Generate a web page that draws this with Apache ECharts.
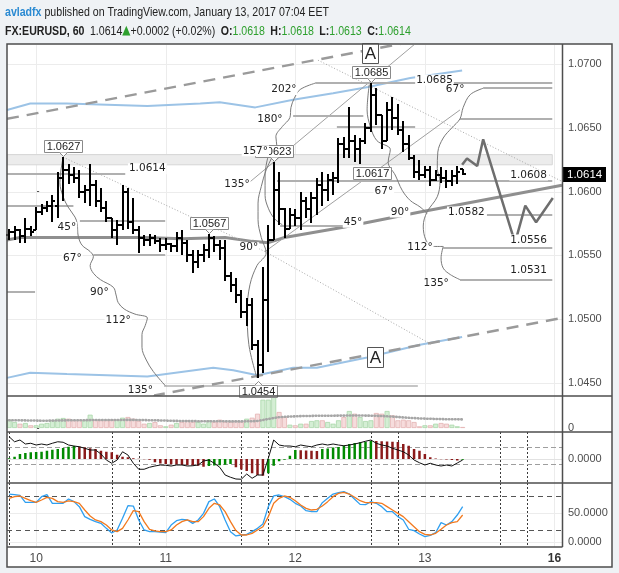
<!DOCTYPE html>
<html><head><meta charset="utf-8">
<script src="https://cdn.jsdelivr.net/npm/echarts@6/dist/echarts.min.js"></script>
<style>html,body{margin:0;padding:0;background:#eff2f5;}#c{width:619px;height:573px;}</style>
</head><body><div id="c"></div>
<script>
// ---------------- DATA ----------------
const dayTicks = [0, 24, 48, 72, 96];
const dayLabels = ['10', '11', '12', '13', '16'];
const sessionLines = [-5, 14, 19, 38, 43, 62, 67, 86, 91];
const priceTicks = [1.0450, 1.0500, 1.0550, 1.0600, 1.0650, 1.0700];
const firstBar = -5;
const opens = [1.0566,1.0568,1.0570,1.0565,1.0571,
 1.0570,1.0584,1.0587,1.0589,1.0589,1.0611,1.0617,1.0613,1.0611,1.0600,
 1.0601,1.0605,1.0593,1.0587,1.0579,1.0570,1.0574,1.0600,1.0576,1.0570,
 1.0564,1.0562,1.0564,1.0561,1.0558,1.0559,1.0557,1.0564,1.0560,1.0550,
 1.0545,1.0550,1.0554,1.0564,1.0558,1.0556,1.0534,1.0527,1.0519,1.0506,
 1.0511,1.0480,1.0464,1.0515,1.0562,1.0601,1.0586,1.0571,1.0582,1.0579,
 1.0593,1.0586,1.0595,1.0605,1.0601,1.0609,1.0611,1.0637,1.0633,1.0640,
 1.0633,1.0640,1.0650,1.0676,1.0660,1.0640,1.0664,1.0658,1.0648,1.0637,
 1.0626,1.0615,1.0613,1.0617,1.0609,1.0613,1.0611,1.0608,1.0612,1.0618];
const highs = [1.0571,1.0573,1.0571,1.0579,1.0573,
 1.0588,1.0590,1.0593,1.0597,1.0615,1.0627,1.0622,1.0619,1.0617,1.0605,
 1.0622,1.0609,1.0603,1.0593,1.0579,1.0578,1.0605,1.0603,1.0595,1.0573,
 1.0566,1.0567,1.0566,1.0564,1.0564,1.0560,1.0568,1.0570,1.0562,1.0554,
 1.0554,1.0559,1.0567,1.0565,1.0562,1.0562,1.0537,1.0532,1.0523,1.0517,
 1.0517,1.0484,1.0541,1.0574,1.0623,1.0615,1.0587,1.0587,1.0586,1.0600,
 1.0596,1.0600,1.0611,1.0615,1.0614,1.0615,1.0642,1.0643,1.0666,1.0644,
 1.0642,1.0654,1.0685,1.0681,1.0660,1.0670,1.0674,1.0669,1.0655,1.0644,
 1.0629,1.0625,1.0620,1.0620,1.0617,1.0619,1.0617,1.0617,1.0620,1.0618];
const lows = [1.0562,1.0562,1.0560,1.0560,1.0565,
 1.0570,1.0582,1.0584,1.0576,1.0579,1.0593,1.0606,1.0607,1.0595,1.0591,
 1.0589,1.0588,1.0584,1.0576,1.0564,1.0558,1.0570,1.0571,1.0567,1.0552,
 1.0557,1.0557,1.0559,1.0553,1.0554,1.0553,1.0553,1.0550,1.0545,1.0536,
 1.0540,1.0545,1.0548,1.0553,1.0546,1.0530,1.0521,1.0513,1.0501,1.0495,
 1.0476,1.0454,1.0458,1.0474,1.0562,1.0574,1.0564,1.0571,1.0573,1.0570,
 1.0579,1.0575,1.0582,1.0589,1.0593,1.0597,1.0607,1.0626,1.0626,1.0623,
 1.0622,1.0637,1.0647,1.0652,1.0633,1.0640,1.0648,1.0644,1.0631,1.0625,
 1.0611,1.0609,1.0611,1.0604,1.0608,1.0607,1.0603,1.0604,1.0606,1.0613];
const closes = [1.0568,1.0570,1.0565,1.0571,1.0568,
 1.0584,1.0587,1.0589,1.0593,1.0611,1.0617,1.0613,1.0611,1.0600,1.0601,
 1.0605,1.0593,1.0587,1.0579,1.0570,1.0574,1.0600,1.0576,1.0570,1.0564,
 1.0562,1.0564,1.0561,1.0558,1.0559,1.0557,1.0564,1.0560,1.0550,1.0545,
 1.0550,1.0554,1.0564,1.0558,1.0556,1.0534,1.0527,1.0519,1.0506,1.0511,
 1.0480,1.0464,1.0515,1.0562,1.0601,1.0586,1.0571,1.0582,1.0579,1.0593,
 1.0586,1.0595,1.0605,1.0601,1.0609,1.0611,1.0637,1.0633,1.0640,1.0633,
 1.0640,1.0650,1.0676,1.0660,1.0640,1.0664,1.0658,1.0648,1.0637,1.0626,
 1.0615,1.0613,1.0617,1.0609,1.0613,1.0611,1.0608,1.0612,1.0615,1.0614];
const volumes = [830,600,430,500,270,270,430,500,770,930,
 1000,930,770,830,770,1330,830,770,770,830,
 830,1030,1100,930,700,430,500,600,270,170,
 330,500,600,770,600,600,430,770,600,830,
 600,600,700,600,930,1030,1430,2830,2830,3100,
 1600,1100,330,270,430,430,700,770,770,600,
 430,770,1100,1700,1430,1100,700,770,1500,1430,
 1700,1270,770,830,770,600,170,270,270,430,
 500,430,330,170,100];
const volumeMA = [770,770,770,760,750,740,730,730,740,750,
 760,770,780,780,780,790,800,800,800,800,
 800,800,810,810,800,790,780,770,760,740,
 720,710,700,690,690,680,680,680,670,670,
 670,660,660,660,670,680,700,800,900,1000,
 1080,1120,1150,1170,1190,1200,1210,1220,1230,1230,
 1230,1240,1240,1250,1250,1250,1240,1230,1220,1200,
 1170,1140,1100,1060,1020,990,960,940,920,900,
 890,880,870,870,860];
const macdHist = [0.00003,0.00009,0.00020,0.00024,0.00027,0.00028,0.00029,0.00033,0.00037,0.00040,
 0.00044,0.00049,0.00052,0.00050,0.00047,0.00043,0.00040,0.00033,0.00029,0.00027,
 0.00017,0.00009,0.00007,0.00003,0.00001,-0.00001,-0.00003,-0.00013,-0.00018,-0.00020,
 -0.00021,-0.00022,-0.00024,-0.00025,-0.00026,-0.00027,-0.00031,-0.00028,-0.00026,-0.00025,
 -0.00023,-0.00020,-0.00033,-0.00042,-0.00048,-0.00057,-0.00064,-0.00067,-0.00057,-0.00027,
 -0.00009,-0.00003,0.00013,0.00036,0.00035,0.00034,0.00033,0.00032,0.00040,0.00042,
 0.00046,0.00048,0.00053,0.00060,0.00064,0.00067,0.00069,0.00073,0.00072,0.00071,
 0.00070,0.00069,0.00068,0.00060,0.00053,0.00040,0.00033,0.00020,0.00007,0.00002,
 -0.00001,-0.00002,-0.00004,-0.00006,-0.00003];
const macdLine = [0.00089,0.00069,0.00076,0.00060,0.00063,0.00056,0.00060,0.00056,0.00063,0.00069,
 0.00067,0.00056,0.00052,0.00049,0.00043,0.00036,0.00036,0.00020,-0.00004,-0.00017,
 -0.00004,0.00029,0.00016,-0.00017,-0.00041,-0.00041,-0.00033,-0.00028,-0.00024,-0.00025,
 -0.00028,-0.00024,-0.00024,-0.00028,-0.00027,-0.00024,-0.00008,-0.00004,-0.00017,-0.00033,
 -0.00064,-0.00073,-0.00080,-0.00081,-0.00060,-0.00077,-0.00064,-0.00064,0.00003,0.00076,
 0.00056,0.00052,0.00052,0.00049,0.00056,0.00052,0.00049,0.00056,0.00060,0.00056,
 0.00060,0.00056,0.00053,0.00056,0.00060,0.00065,0.00071,0.00076,0.00063,0.00056,
 0.00052,0.00043,0.00036,0.00029,0.00016,-0.00004,-0.00015,-0.00024,-0.00017,-0.00024,
 -0.00028,-0.00024,-0.00028,-0.00016,-0.00004];
const macdLevels = [0.0005, -0.0002];
const stochK = [82.8,81.7,80.5,68.4,68.4,68.4,78.2,81.7,66.7,66.7,
 66.7,74.2,69.6,60.9,43.6,38.9,34.9,32.0,23.3,15.2,
 20.5,40.7,62.6,62.0,37.8,20.5,17.6,17.6,17.0,15.8,
 29.1,36.6,38.9,37.8,32.0,37.8,49.3,69.6,74.2,60.9,
 37.8,17.6,10.1,11.8,12.9,17.6,23.3,30.8,60.9,79.4,
 81.1,78.2,73.6,66.7,62.0,54.0,52.2,52.2,67.8,75.3,
 82.8,85.2,86.9,82.8,73.6,64.9,64.3,69.6,66.7,60.9,
 52.2,52.2,43.6,37.8,21.7,19.4,13.5,8.9,11.2,15.8,
 33.2,29.1,34.9,46.4,60.9];
const stochD = [75.3,78.2,79.4,75.3,71.2,68.4,72.4,77.1,75.3,69.6,
 68.4,70.8,69.6,66.7,55.1,44.7,37.8,34.9,29.1,20.5,
 17.6,23.3,37.8,54.0,52.2,34.9,21.7,18.8,17.6,17.6,
 20.5,29.1,34.9,37.8,34.9,34.9,43.6,58.0,66.7,63.8,
 52.2,34.9,19.4,11.8,11.8,14.7,20.5,26.2,43.6,66.7,
 75.3,79.4,77.1,71.2,63.8,58.0,55.1,56.3,62.0,69.6,
 78.2,84.0,85.7,82.8,77.1,71.2,67.8,67.8,67.8,66.7,
 60.9,55.1,49.3,43.6,34.9,26.2,17.6,12.9,11.8,14.7,
 21.7,29.1,33.2,34.9,46.4];
const stochLevels = [80, 20];
const lastPrice = 1.0614;

// envelope (blue bands) and gray middle line: [barIndex, price]
const envUpper = [[-5.4,1.0664],[-1.1,1.0669],[5.7,1.0669],[20.6,1.0667],[30.4,1.0669],[34,1.0670],[40.6,1.0666],[47.6,1.0672],[55,1.0677],[61.5,1.0682],[69.3,1.0689],[78.9,1.0695]];
const envLower = [[-5.4,1.0454],[-1.1,1.0458],[5.7,1.0457],[20.6,1.0455],[32.8,1.0462],[36.5,1.0460],[41,1.0456],[47.6,1.0462],[52,1.0462],[61.3,1.0470],[71.1,1.0480],[78.9,1.0486]];
const envMid = [[-5.4,1.0562],[-3,1.0564],[10,1.0564],[20,1.0564],[27,1.0563],[35,1.0564],[40,1.0561],[43,1.0560],[46,1.0564],[56.9,1.0572],[71.1,1.0584],[97.4,1.0605]];
// drawings: straight segments [x1, p1, x2, p2]
const channelLines = [[-5.4,1.0657,97.4,1.0740],[18,1.0437,97.4,1.0501]];
const fanLines = [[38.3,1.0603,71.1,1.0719],[42.4,1.0553,78.5,1.0664]];
const dottedLines = [[5.0,1.0627,42.4,1.0553],[42.4,1.0553,73.3,1.0480],[52.2,1.0703,97.4,1.0608]];
// horizontal levels [x1, x2, price]
const levels = [[-5.4,16.5,1.0614],[-5.4,6.9,1.0589],[8.1,23.9,1.0577],[10.6,23.9,1.0550],[-5.4,-0.2,1.0521],
 [51.7,95.6,1.0685],[82.8,95.6,1.0681],[47.6,60.6,1.0659],[55.7,70.2,1.0651],[78.5,95.6,1.0657],
 [44.6,95.6,1.0608],[45.2,56.9,1.0573],[83.5,95.6,1.0582],[75.4,95.6,1.0556],[78.5,95.6,1.0531]];
const lowLevel = [[23.7,70.7,1.0448]];
const band = [[-5.4,95.6,1.0621,1.0629]];
// curved arcs [barIndex, price]
const arcA = [[5.0,1.0627],[4.6,1.0617],[4.4,1.0607],[5.0,1.0596],[5.9,1.0588],[7.2,1.0580],[7.6,1.0575],[7.8,1.0565],[8.5,1.0558],[10.0,1.0553],[10.6,1.0549],[10.0,1.0542],[10.6,1.0536],[11.9,1.0531],[14.3,1.0525],[14.8,1.0519],[15.2,1.0513],[16.3,1.0508],[18.3,1.0504],[20.6,1.0501],[20.2,1.0495],[19.6,1.0488],[19.6,1.0478],[20.4,1.0468],[21.7,1.0459],[23.9,1.0448]];
const arcB = [[40.9,1.0454],[39.4,1.0480],[39.1,1.0507],[39.6,1.0527],[40.9,1.0542],[42.6,1.0552],[41.7,1.0564],[41.1,1.0578],[41.1,1.0591],[41.7,1.0604],[42.6,1.0617],[43.7,1.0627],[44.6,1.0635],[44.4,1.0643],[45.6,1.0651],[47.0,1.0658],[47.2,1.0666],[47.8,1.0673],[48.9,1.0680],[51.7,1.0685]];
const arcB2 = [[43.3,1.0633],[42.4,1.0613],[42.4,1.0597],[43.0,1.0587],[44.1,1.0579],[45.6,1.0574]];
const arcC = [[61.7,1.0684],[61.3,1.0664],[61.9,1.0651],[63.1,1.0640],[65.6,1.0633],[65.2,1.0623],[66.5,1.0613],[67.8,1.0601],[69.3,1.0593],[71.1,1.0588],[72.4,1.0583]];
const arcD = [[82.8,1.0681],[80.4,1.0676],[79.1,1.0666],[78.5,1.0657],[77.0,1.0650],[75.4,1.0642],[74.4,1.0631],[74.3,1.0618],[74.8,1.0608],[74.3,1.0596],[72.4,1.0584],[71.7,1.0573],[72.2,1.0562],[73.5,1.0557],[75.4,1.0557]];
const arcE = [[75.4,1.0557],[75.0,1.0548],[75.4,1.0540],[76.7,1.0535],[78.5,1.0531]];
const forecast = [[78.9,1.0621],[79.8,1.0626],[81.7,1.0620],[82.8,1.0641],[88.7,1.0560],[90.6,1.0589],[92.6,1.0576],[95.7,1.0595]];
// text annotations
const degLabels = [[5.7,1.0572,'45°'],[6.7,1.0548,'67°'],[11.7,1.0521,'90°'],[15.2,1.0499,'112°'],[19.3,1.04445,'135°'],
 [39.4,1.0556,'90°'],[37.2,1.0606,'135°'],[40.6,1.0632,'157°'],[43.3,1.0657,'180°'],[45.9,1.0680,'202°'],
 [58.7,1.0576,'45°'],[64.4,1.0600,'67°'],[67.4,1.0584,'90°'],[71.1,1.0556,'112°'],[74.1,1.0528,'135°'],[77.6,1.0680,'67°']];
const levelLabels = [[17.0,1.0618,'1.0614','left'],[70.2,1.06875,'1.0685','left'],[94.8,1.0613,'1.0608','right'],
 [76.1,1.0584,'1.0582','left'],[94.8,1.0562,'1.0556','right'],[94.8,1.0538,'1.0531','right']];
const priceBoxes = [[5,1.0627,'1.0627','up'],[32,1.0567,'1.0567','up'],[44,1.0623,'1.0623','up'],
 [41,1.0454,'1.0454','down'],[62,1.0685,'1.0685','up'],[62.2,1.06146,'1.0617','none']];
const waveLabels = [[61.9,1.07086,'A'],[62.8,1.04704,'A']];

// ---------------- CHART ----------------
const FONT_AX = '"Liberation Sans", Arial, sans-serif';
const FONT_DR = '"DejaVu Sans", Verdana, sans-serif';
const idx = opens.map((_, k) => firstBar + k);
const ohlc = opens.map((o, k) => [idx[k], o, highs[k], lows[k], closes[k]]);

function vLine(color, dash) {
  return (params, api) => {
    const cs = params.coordSys;
    const x = Math.round(api.coord([api.value(0), 0])[0]) + 0.5;
    return {type: 'line', shape: {x1: x, y1: cs.y, x2: x, y2: cs.y + cs.height}, style: {stroke: color, lineWidth: 1, lineDash: dash || null}};
  };
}
function hLine(color, dash, w) {
  return (params, api) => {
    const cs = params.coordSys;
    const y = Math.round(api.coord([0, api.value(0)])[1]) + 0.5;
    return {type: 'line', shape: {x1: cs.x, y1: y, x2: cs.x + cs.width, y2: y}, style: {stroke: color, lineWidth: w || 1, lineDash: dash || null}};
  };
}
function seg(style) {
  return (params, api) => {
    const a = api.coord([api.value(0), api.value(1)]), b = api.coord([api.value(2), api.value(3)]);
    return {type: 'line', shape: {x1: a[0], y1: a[1], x2: b[0], y2: b[1]}, style: Object.assign({}, style)};
  };
}
function hSeg(style) {
  return (params, api) => {
    const a = api.coord([api.value(0), api.value(2)]), b = api.coord([api.value(1), api.value(2)]);
    const y = Math.round(a[1]);
    return {type: 'line', shape: {x1: a[0], y1: y, x2: b[0], y2: y}, style: Object.assign({}, style)};
  };
}
function customSeries(name, g, data, render, encode, z, clip) {
  return {type: 'custom', name, xAxisIndex: g, yAxisIndex: g, data, renderItem: render, encode, z: z || 2, silent: true, clip: !!clip};
}
function lineSeries(data, color, width, z, extra) {
  return Object.assign({type: 'line', xAxisIndex: 0, yAxisIndex: 0, data, showSymbol: false, symbol: 'none', silent: true, z: z || 3,
    lineStyle: {color, width}, clip: true}, extra || {});
}

const grids = [
  {left: 7, right: 57, top: 45, height: 351},
  {left: 7, right: 57, top: 396, height: 36},
  {left: 7, right: 57, top: 432, height: 51},
  {left: 7, right: 57, top: 483, height: 64}
];
const xBase = {type: 'value', min: -5.4, max: 97.4, axisLine: {show: false}, axisTick: {show: false}, splitLine: {show: false}, axisLabel: {show: false}};
const xAxes = [0, 1, 2, 3].map(g => Object.assign({}, xBase, {gridIndex: g}));
xAxes[3].axisLabel = {show: true, customValues: dayTicks, margin: 6, color: '#4a4a4a', fontSize: 12, fontFamily: FONT_AX,
  formatter: v => { const i = dayTicks.indexOf(v); return i === dayTicks.length - 1 ? '{b|' + dayLabels[i] + '}' : dayLabels[i]; },
  rich: {b: {fontWeight: 'bold', fontSize: 12, color: '#333', fontFamily: FONT_AX}}};
function yAx(g, min, max, ticks) {
  return {gridIndex: g, type: 'value', position: 'right', min, max, axisLine: {show: false}, splitLine: {show: false},
    axisTick: {show: true, customValues: ticks, length: 3, lineStyle: {color: '#555'}},
    axisLabel: {customValues: ticks, formatter: v => g === 1 ? String(v) : v.toFixed(4), color: '#4d4d4d', fontSize: 11, fontFamily: FONT_AX, margin: 6}};
}
const yAxes = [yAx(0, 1.04398, 1.07149, priceTicks), yAx(1, -400, 3200, [0]), yAx(2, -0.00096, 0.00108, [0]), yAx(3, -9, 101.9, [0, 50])];

const series = [];
[0, 1, 2, 3].forEach(g => series.push(customSeries('day' + g, g, dayTicks.map(v => [v]), vLine('#ececec'), {x: 0}, 1)));
series.push(customSeries('pgrid', 0, priceTicks.map(v => [v]), hLine('#ececec'), {y: 0}, 1));
series.push(customSeries('sgrid', 3, [[0], [50]], hLine('#ececec'), {y: 0}, 1));
series.push(customSeries('mzero', 2, [[0]], hLine('#e2e2e2'), {y: 0}, 1));
[2, 3].forEach(g => series.push(customSeries('sess' + g, g, sessionLines.map(v => [v]), vLine('#3a3a3a', [2, 2]), {x: 0}, 2)));
series.push(customSeries('mlev', 2, macdLevels.map(v => [v]), hLine('#9e9e9e', [5, 3]), {y: 0}, 2));
series.push(customSeries('slev', 3, stochLevels.map(v => [v]), hLine('#555', [5, 4]), {y: 0}, 2));
// band
series.push(customSeries('band', 0, band, (params, api) => {
  const a = api.coord([api.value(0), api.value(3)]), b = api.coord([api.value(1), api.value(2)]);
  return {type: 'rect', shape: {x: a[0], y: a[1], width: b[0] - a[0], height: b[1] - a[1]}, style: {fill: '#ececec', stroke: '#d6d6d6', lineWidth: 1}};
}, {x: [0, 1], y: [2, 3]}, 1.5, true));
// envelope
series.push(lineSeries(envUpper, '#9cc3e6', 2, 2.5));
series.push(lineSeries(envLower, '#9cc3e6', 2, 2.5));
series.push(lineSeries(envMid, '#8f8f8f', 3, 2.5));
// drawings
series.push(customSeries('chan', 0, channelLines, seg({stroke: '#9a9a9a', lineWidth: 2.5, lineDash: [12, 8]}), {x: [0, 2], y: [1, 3]}, 3, true));
series.push(customSeries('fan', 0, fanLines, seg({stroke: '#a0a0a0', lineWidth: 1}), {x: [0, 2], y: [1, 3]}, 3, true));
series.push(customSeries('dots', 0, dottedLines, seg({stroke: '#a8a8a8', lineWidth: 1, lineDash: [1, 2]}), {x: [0, 2], y: [1, 3]}, 3, true));
series.push(customSeries('lev', 0, levels, hSeg({stroke: '#b0b0b0', lineWidth: 2}), {x: [0, 1], y: 2}, 3, true));
series.push(customSeries('lowlev', 0, lowLevel, hSeg({stroke: '#8a8a8a', lineWidth: 1}), {x: [0, 1], y: 2}, 3, true));
[arcA, arcB, arcB2, arcC, arcD, arcE].forEach(a => series.push(lineSeries(a, '#7a7a7a', 1, 3, {smooth: 0.35})));
series.push(lineSeries(forecast, '#6e6e6e', 2.5, 3));
// OHLC bars
series.push(customSeries('ohlc', 0, ohlc, (params, api) => {
  const x = api.value(0);
  const pO = api.coord([x, api.value(1)]), pH = api.coord([x, api.value(2)]), pL = api.coord([x, api.value(3)]), pC = api.coord([x, api.value(4)]);
  const cx = Math.round(pO[0]);
  const st = {stroke: '#000', lineWidth: 2};
  const yo = Math.round(pO[1]), yc = Math.round(pC[1]);
  return {type: 'group', children: [
    {type: 'line', shape: {x1: cx, y1: Math.round(pH[1]), x2: cx, y2: Math.round(pL[1])}, style: st},
    {type: 'line', shape: {x1: cx - 3, y1: yo, x2: cx, y2: yo}, style: st},
    {type: 'line', shape: {x1: cx, y1: yc, x2: cx + 3, y2: yc}, style: st}
  ]};
}, {x: 0, y: [1, 2, 3, 4]}, 4));
// labels
series.push(customSeries('boxes', 0, priceBoxes.map(d => [d[0], d[1]]), (params, api) => {
  const d = priceBoxes[params.dataIndex];
  const p = api.coord([d[0], d[1]]);
  const w = 38, h = 12, cx = Math.round(p[0]) + 0.5;
  let by;
  if (d[3] === 'up') by = Math.round(p[1]) - 5 - h; else if (d[3] === 'down') by = Math.round(p[1]) + 7; else by = Math.round(p[1] - h / 2);
  by += 0.5;
  const ch = [
    {type: 'rect', shape: {x: cx - w / 2, y: by, width: w, height: h}, style: {fill: '#fff', stroke: '#8a8a8a', lineWidth: 1}},
    {type: 'text', x: cx, y: by + h / 2 + 0.5, style: {text: d[2], fill: '#222', fontSize: 11, fontFamily: FONT_AX, align: 'center', verticalAlign: 'middle'}}
  ];
  if (d[3] === 'up') ch.push({type: 'polyline', shape: {points: [[cx - 4, by + h], [cx, by + h + 4], [cx + 4, by + h]]}, style: {stroke: '#8a8a8a', fill: '#fff', lineWidth: 1}});
  if (d[3] === 'down') ch.push({type: 'polyline', shape: {points: [[cx - 4, by], [cx, by - 4], [cx + 4, by]]}, style: {stroke: '#8a8a8a', fill: '#fff', lineWidth: 1}});
  return {type: 'group', children: ch};
}, {x: 0, y: 1}, 6));
series.push(customSeries('deg', 0, degLabels.map(d => [d[0], d[1]]), (params, api) => {
  const d = degLabels[params.dataIndex];
  const p = api.coord([d[0], d[1]]);
  return {type: 'text', x: p[0], y: p[1], style: {text: d[2], fill: '#222', fontSize: 10.5, fontFamily: FONT_DR, align: 'center', verticalAlign: 'middle', backgroundColor: '#fff', padding: [0, 1]}};
}, {x: 0, y: 1}, 7));
series.push(customSeries('lvlab', 0, levelLabels.map(d => [d[0], d[1]]), (params, api) => {
  const d = levelLabels[params.dataIndex];
  const p = api.coord([d[0], d[1]]);
  return {type: 'text', x: p[0], y: p[1], style: {text: d[2], fill: '#222', fontSize: 10.5, fontFamily: FONT_DR, align: d[3], verticalAlign: 'middle', backgroundColor: '#fff', padding: [0, 1]}};
}, {x: 0, y: 1}, 5));
series.push(customSeries('wave', 0, waveLabels.map(d => [d[0], d[1]]), (params, api) => {
  const d = waveLabels[params.dataIndex];
  const p = api.coord([d[0], d[1]]);
  const cx = Math.round(p[0]) + 0.5, cy = Math.round(p[1]) + 0.5;
  return {type: 'group', children: [
    {type: 'rect', shape: {x: cx - 8, y: cy - 10, width: 16, height: 20}, style: {fill: '#fff', stroke: '#555', lineWidth: 1}},
    {type: 'text', x: cx, y: cy + 1, style: {text: d[2], fill: '#222', fontSize: 17, fontFamily: FONT_AX, align: 'center', verticalAlign: 'middle'}}
  ]};
}, {x: 0, y: 1}, 6));
series.push(customSeries('tag', 0, [[97.4, lastPrice]], (params, api) => {
  const cs = params.coordSys;
  const p = api.coord([api.value(0), api.value(1)]);
  const y = Math.round(p[1]);
  return {type: 'group', children: [
    {type: 'rect', shape: {x: cs.x + cs.width + 1, y: y - 7, width: 43, height: 15}, style: {fill: '#000'}},
    {type: 'text', x: cs.x + cs.width + 5, y: y + 0.5, style: {text: lastPrice.toFixed(4), fill: '#fff', fontSize: 11.5, fontFamily: FONT_AX, align: 'left', verticalAlign: 'middle'}}
  ]};
}, {x: 0, y: 1}, 8));
// volume
series.push({type: 'bar', xAxisIndex: 1, yAxisIndex: 1, barWidth: 5, silent: true, z: 3,
  data: volumes.map((v, k) => ({value: [idx[k], v], itemStyle: closes[k] >= opens[k] ? {color: '#d4eed4', borderColor: '#a9d7a9', borderWidth: 0.8} : {color: '#f6dcdc', borderColor: '#e3b3b3', borderWidth: 0.8}}))});
series.push({type: 'line', xAxisIndex: 1, yAxisIndex: 1, data: volumeMA.map((v, k) => [idx[k], v]), showSymbol: false, silent: true, z: 4,
  lineStyle: {color: '#a6a6a6', width: 2.6, type: [0.5, 2.6], cap: 'round'}});
// MACD
series.push({type: 'bar', xAxisIndex: 2, yAxisIndex: 2, barWidth: 2.5, silent: true, z: 3,
  data: macdHist.map((v, k) => ({value: [idx[k], v], itemStyle: {color: (k === 0 || v > macdHist[k - 1]) ? '#008a00' : '#8b1a1a'}}))});
series.push({type: 'line', xAxisIndex: 2, yAxisIndex: 2, data: macdLine.map((v, k) => [idx[k], v]), showSymbol: false, silent: true, z: 4,
  lineStyle: {color: '#111', width: 1}});
// Stochastic
series.push({type: 'line', xAxisIndex: 3, yAxisIndex: 3, data: stochK.map((v, k) => [idx[k], v]), showSymbol: false, silent: true, z: 4,
  lineStyle: {color: '#2f9ff0', width: 1.3}});
series.push({type: 'line', xAxisIndex: 3, yAxisIndex: 3, data: stochD.map((v, k) => [idx[k], v]), showSymbol: false, silent: true, z: 4,
  lineStyle: {color: '#f2791e', width: 1.3}});

const frame = '#4e4e4e';
const HF = '"Liberation Sans", Arial, sans-serif';
const graphic = {elements: [
  {type: 'rect', z: -10, silent: true, shape: {x: 7, y: 44, width: 605, height: 523}, style: {fill: '#fff'}},
  {type: 'rect', z: 100, silent: true, shape: {x: 7, y: 44, width: 605, height: 523}, style: {fill: null, stroke: frame, lineWidth: 1.5}},
  {type: 'line', z: 100, silent: true, shape: {x1: 562.5, y1: 44, x2: 562.5, y2: 547}, style: {stroke: frame, lineWidth: 1.5}},
  {type: 'line', z: 100, silent: true, shape: {x1: 7, y1: 396, x2: 612, y2: 396}, style: {stroke: frame, lineWidth: 1.5}},
  {type: 'line', z: 100, silent: true, shape: {x1: 7, y1: 432, x2: 612, y2: 432}, style: {stroke: frame, lineWidth: 1.5}},
  {type: 'line', z: 100, silent: true, shape: {x1: 7, y1: 483, x2: 612, y2: 483}, style: {stroke: frame, lineWidth: 1.5}},
  {type: 'line', z: 100, silent: true, shape: {x1: 7, y1: 547, x2: 562.5, y2: 547}, style: {stroke: frame, lineWidth: 1.5}},
  {type: 'text', z: 100, silent: true, x: 5, y: 12, scaleX: 0.815, style: {
    text: '{a|avladfx}{t| published on TradingView.com, January 13, 2017 07:04 EET}', verticalAlign: 'middle',
    rich: {a: {fill: '#2a8ad2', fontWeight: 'bold', fontSize: 13, fontFamily: HF},
           t: {fill: '#222', fontSize: 13, fontFamily: HF}}}},
  {type: 'text', z: 100, silent: true, x: 5, y: 31, scaleX: 0.815, style: {
    text: '{b|FX:EURUSD, 60}  {n|1.0614}{g|▲}{n|+0.0002 (+0.02%)}  {b|O:}{v|1.0618}  {b|H:}{v|1.0618}  {b|L:}{v|1.0613}  {b|C:}{v|1.0614}', verticalAlign: 'middle',
    rich: {b: {fill: '#222', fontWeight: 'bold', fontSize: 13, fontFamily: HF},
           n: {fill: '#222', fontSize: 13, fontFamily: HF},
           g: {fill: '#2ea02e', fontSize: 13, fontFamily: '"DejaVu Sans", sans-serif'},
           v: {fill: '#2ea02e', fontSize: 13, fontFamily: HF}}}}
]};

const chart = echarts.init(document.getElementById('c'));
chart.setOption({animation: false, backgroundColor: '#eff2f5', grid: grids, xAxis: xAxes, yAxis: yAxes, series, graphic});
</script></body></html>
